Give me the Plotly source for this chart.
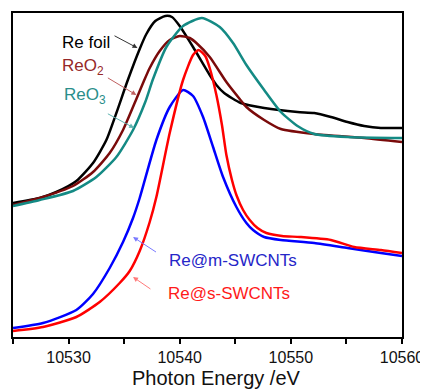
import plotly.graph_objects as go

# ---- data (photon energy in eV, normalized absorption with offsets, a.u.) ----
e_foil = [10525.0, 10527.4, 10528.9, 10530.7, 10532.2, 10533.4, 10534.3, 10535.3, 10536.4, 10537.0,
          10537.8, 10538.7, 10539.3, 10540.0, 10541.2, 10542.7, 10543.3, 10544.0, 10545.5, 10547.6,
          10550.6, 10552.1, 10553.6, 10555.1, 10556.6, 10558.1, 10560.0]
y_foil = [1.34, 1.39, 1.45, 1.56, 1.74, 1.97, 2.24, 2.56, 2.88, 3.03,
          3.16, 3.21, 3.20, 3.11, 2.90, 2.62, 2.52, 2.44, 2.34, 2.29,
          2.25, 2.24, 2.20, 2.15, 2.11, 2.09, 2.09]

e_reo2 = [10525.0, 10527.4, 10530.4, 10532.2, 10533.7, 10534.9, 10536.1, 10536.7, 10537.3, 10538.2,
          10539.1, 10540.0, 10540.9, 10541.5, 10542.7, 10544.2, 10545.4, 10546.0, 10547.6, 10549.1,
          10552.1, 10556.6, 10560.0]
y_reo2 = [1.32, 1.39, 1.51, 1.65, 1.84, 2.07, 2.38, 2.54, 2.69, 2.86,
          2.97, 3.01, 2.99, 2.94, 2.80, 2.55, 2.38, 2.30, 2.17, 2.08,
          2.03, 1.99, 1.95]

e_reo3 = [10525.0, 10527.4, 10530.4, 10532.5, 10534.3, 10535.8, 10536.9, 10537.6, 10538.8, 10540.3,
          10542.0, 10543.6, 10544.8, 10546.0, 10547.6, 10549.1, 10550.6, 10552.1, 10555.1, 10560.0]
y_reo3 = [1.31, 1.37, 1.46, 1.60, 1.80, 2.07, 2.35, 2.58, 2.90, 3.11,
          3.19, 3.10, 2.94, 2.72, 2.47, 2.25, 2.11, 2.03, 2.00, 1.99]

e_m = [10525.0, 10527.7, 10530.7, 10532.2, 10533.7, 10534.9, 10535.8, 10536.4, 10537.9, 10539.1,
       10540.3, 10541.2, 10542.1, 10543.0, 10543.9, 10545.1, 10546.0, 10546.6, 10547.6, 10549.1,
       10552.1, 10555.1, 10558.1, 10560.0]
y_m = [0.09, 0.14, 0.27, 0.43, 0.69, 0.95, 1.19, 1.39, 1.97, 2.30,
       2.47, 2.41, 2.20, 1.90, 1.60, 1.30, 1.14, 1.07, 1.00, 0.97,
       0.94, 0.89, 0.84, 0.81]

e_s = [10525.0, 10527.7, 10530.7, 10532.8, 10534.6, 10535.5, 10536.4, 10537.3, 10537.9, 10539.1,
       10540.3, 10541.2, 10541.7, 10542.3, 10542.7, 10543.3, 10543.8, 10544.2, 10544.7, 10545.1,
       10545.7, 10546.3, 10547.0, 10547.8, 10549.2, 10550.8, 10553.6, 10555.7, 10558.1, 10560.0]
y_s = [0.06, 0.10, 0.20, 0.35, 0.54, 0.66, 0.86, 1.15, 1.40, 2.04,
       2.57, 2.82, 2.87, 2.81, 2.69, 2.42, 2.12, 1.82, 1.57, 1.42,
       1.27, 1.17, 1.09, 1.04, 1.01, 1.00, 0.97, 0.90, 0.87, 0.84]

x_ticks = [10530, 10540, 10550, 10560]

FONT = "Arial, Liberation Sans, sans-serif"

fig = go.Figure()
series = [
    (e_foil, y_foil, "Re foil", "#000000"),
    (e_reo2, y_reo2, "ReO2", "#7A0A0A"),
    (e_reo3, y_reo3, "ReO3", "#148A84"),
    (e_m, y_m, "Re@m-SWCNTs", "#0000FF"),
    (e_s, y_s, "Re@s-SWCNTs", "#FF0000"),
]
for ex, ey, name, col in series:
    fig.add_trace(go.Scatter(x=ex, y=ey, mode="lines", name=name,
                             line=dict(color=col, width=2.5, shape="spline", smoothing=0.6)))

# labels
labels = [
    ("Re foil", 10529.2, 2.95, "#000000"),
    ("ReO<sub>2</sub>", 10529.2, 2.70, "#962828"),
    ("ReO<sub>3</sub>", 10529.4, 2.41, "#2A8E8A"),
    ("Re@m-SWCNTs", 10538.9, 0.77, "#2626C8"),
    ("Re@s-SWCNTs", 10538.8, 0.44, "#FF1A1A"),
]
for t, lx, ly, col in labels:
    fig.add_annotation(x=lx, y=ly, text=t, showarrow=False, xanchor="left", yanchor="middle",
                       font=dict(family=FONT, size=17, color=col))

# arrows (tail -> head)
arrows = [
    (10534.0, 3.02, 10536.2, 2.89, "#333333"),
    (10533.4, 2.60, 10536.1, 2.42, "#C06060"),
    (10533.4, 2.24, 10535.9, 2.09, "#60B4B0"),
    (10538.0, 0.84, 10535.8, 1.00, "#7A7AFF"),
    (10537.5, 0.47, 10535.8, 0.60, "#FF7A7A"),
]
for tx, ty, hx, hy, col in arrows:
    fig.add_annotation(x=hx, y=hy, ax=tx, ay=ty, xref="x", yref="y", axref="x", ayref="y",
                       text="", showarrow=True, arrowhead=2, arrowsize=1, arrowwidth=1,
                       arrowcolor=col)

# x-axis title
fig.add_annotation(x=0.524, y=-0.127, xref="paper", yref="paper", text="Photon Energy /eV",
                   showarrow=False, xanchor="center", yanchor="middle",
                   font=dict(family=FONT, size=20, color="#111111"))

# the page body adds an 8 px offset, so the figure is sized to fit inside it
fig.update_layout(
    width=420, height=381,
    margin=dict(l=5, r=26, t=5, b=52, autoexpand=False),
    paper_bgcolor="white", plot_bgcolor="white",
    showlegend=False,
    font=dict(family=FONT, color="#111111"),
)
fig.update_xaxes(range=[10525, 10560], tickvals=x_ticks, ticktext=[str(v) for v in x_ticks],
                 ticks="outside", ticklen=5, tickwidth=1.5, tickcolor="black",
                 minor=dict(dtick=5, tick0=10525, ticks="outside", ticklen=5, tickwidth=1.5, tickcolor="black"),
                 showline=True, linewidth=1.8, linecolor="black", mirror=True,
                 showgrid=False, zeroline=False, automargin=False,
                 tickfont=dict(family=FONT, size=16, color="#111111"))
fig.update_yaxes(range=[0, 3.24], showticklabels=False, ticks="",
                 showline=True, linewidth=1.8, linecolor="black", mirror=True,
                 showgrid=False, zeroline=False, automargin=False)

fig.write_html("out.html")
